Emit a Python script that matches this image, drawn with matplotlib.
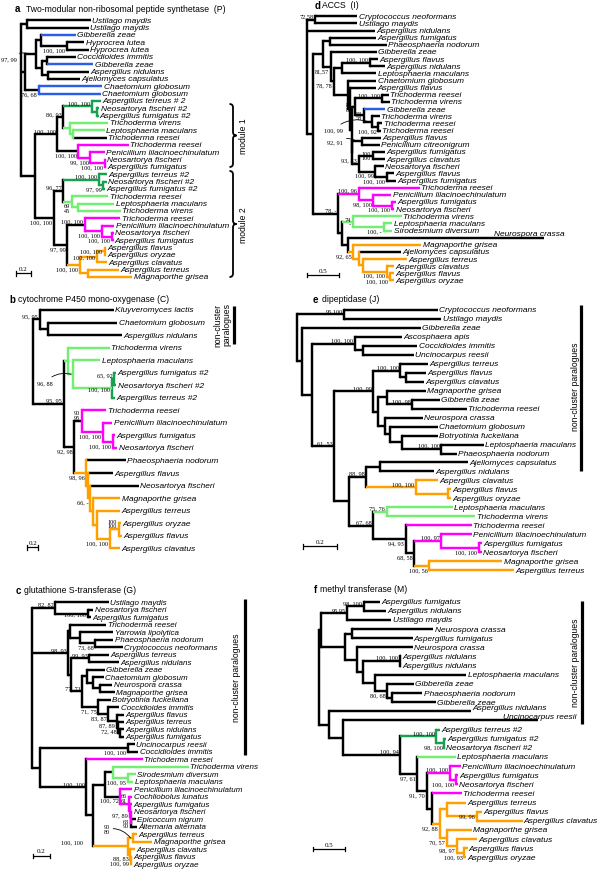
import matplotlib
matplotlib.use("Agg")
import matplotlib.pyplot as plt
from matplotlib.path import Path
from matplotlib.patches import PathPatch

W, H = 600, 870
SANS = ["Liberation Sans", "DejaVu Sans"]
SERIF = ["Liberation Serif", "DejaVu Serif"]
COLORS = {"k": "#000000", "b": "#2a5ee8", "m": "#ff00ff", "g": "#17a050",
          "l": "#72ee72", "o": "#ffa000"}
LW = 1.75
FS_SUP = 4.5


def L(name, d, c="k", off=None):
    return {"name": name, "d": d, "c": c, "off": off}


def N(d, kids, c="k", lab="", pos="a"):
    return {"d": d, "kids": kids, "c": c, "lab": lab, "pos": pos}


# ---------------- panel a: NRPS (P) ----------------
A_MODULE1 = N(0.49, [
    N(0.57, [
        N(0.95, [L("Aspergillus terreus # 2", 1.07, "g"),
                 N(1.02, [L("Neosartorya fischeri #2", 1.05, "g"),
                          L("Aspergillus fumigatus #2", 1.04, "g")], "g")],
          "g", "100, 100", "a"),
        N(0.66, [L("Trichoderma virens", 1.17, "l"),
                 N(0.70, [L("Leptosphaeria maculans", 1.12, "l"),
                          L("Trichoderma reesei", 1.15, "k")], "l")], "l"),
    ], "k", "86, 93", "a"),
    N(0.77, [L("Trichoderma reesei", 1.44, "m"),
             N(0.93, [L("Penicillium lilacinoechinulatum", 1.12, "m"),
                      N(1.12, [L("Neosartorya fischeri", 1.14, "m"),
                               L("Aspergillus fumigatus", 1.14, "m")], "m", "100, 100", "b")],
               "m", "99, 100", "b")], "k/m", "100, 100", "b"),
], "k", "100, 100", "a")

A_MODULE2 = N(0.44, [
    N(0.57, [
        N(1.04, [L("Aspergillus terreus #2", 1.15, "g"),
                 N(1.10, [L("Neosartorya fischeri #2", 1.15, "g"),
                          L("Aspergillus fumigatus #2", 1.13, "g")], "g", "97, 99", "b")],
          "g", "100, 100", "a"),
        N(0.68, [L("Trichoderma reesei", 1.17, "l"),
                 N(0.76, [L("Leptosphaeria maculans", 1.25, "l"),
                          L("Trichoderma virens", 1.34, "l")], "l")], "l", "69\n45", "b"),
    ], "k", "96, 77", "a"),
    N(0.62, [
        N(0.86, [L("Trichoderma reesei", 1.33, "m"),
                 N(1.08, [L("Penicillium lilacinoechinulatum", 1.25, "m"),
                          N(1.22, [L("Neosartorya fischeri", 1.24, "m"),
                                   L("Aspergillus fumigatus", 1.24, "m")], "m", "100, 100", "b")],
                   "m", "100, 100", "b")], "k/m", "100, 100", "a"),
        N(0.79, [
            N(1.02, [N(1.12, [L("Aspergillus flavus", 1.14, "o"),
                              L("Aspergillus oryzae", 1.14, "o")], "o", "100, 100", "l"),
                     L("Aspergillus clavatus", 1.15, "o")], "o", "100, 100", "l"),
            N(0.90, [L("Aspergillus terreus", 1.31, "o"),
                     L("Magnaporthe grisea", 1.49, "o")], "o"),
        ], "o", "100, 100", "b"),
    ], "k", "97, 99", "b"),
], "k", "100, 100", "b")

TREE_A = N(0.0, [
    N(0.08, [L("Ustilago maydis", 0.94), L("Ustilago maydis", 0.91)]),
    N(0.06, [
        N(0.21, [
            N(0.27, [L("Gibberella zeae", 0.74, "b"),
                     N(0.62, [L("Hyprocrea lutea", 0.85), L("Hyprocrea lutea", 0.91)],
                       "k", "100, 100", "b")]),
            N(0.28, [
                N(0.35, [L("Coccidioides immitis", 0.74), L("Gibberella zeae", 0.97, "b")]),
                N(0.37, [L("Aspergillus nidulans", 0.91), L("Ajellomyces capsulatus", 0.79)]),
            ]),
        ], "k", "97, 99", (-9.7, -3.2)),
        N(0.24, [L("Chaetomium globosum", 1.09, "b"), L("Chaetomium globosum", 1.07, "b")],
          "k/b", "76, 68", "b"),
    ]),
    N(0.19, [A_MODULE1, A_MODULE2]),
])

# ---------------- panel b: cytochrome P450 (C) ----------------
TREE_B = N(0.0, [
    N(0.12, [L("Kluyveromyces lactis", 1.46),
             N(0.27, [L("Chaetomium globosum", 1.53), L("Aspergillus nidulans", 1.62)])],
      "k", "95, 95", "a"),
    N(0.55, [
        N(0.64, [L("Trichoderma virens", 1.39, "l"),
                 N(0.73, [L("Leptosphaeria maculans", 1.22, "l"),
                          N(1.44, [N(1.47, [L("Aspergillus fumigatus #2", 1.51, "g"),
                                            L("Neosartorya fischeri #2", 1.51, "g")], "g", "65, 92", "a"),
                                   L("Aspergillus terreus #2", 1.49, "g")], "l/g", "100, 100", "l")],
                   "l", "96, 88", (-12.8, -6.0))], "l"),
        N(0.74, [
            N(0.88, [L("Trichoderma reesei", 1.33, "m"),
                     N(1.27, [L("Penicillium lilacinoechinulatum", 1.44, "m"),
                              N(1.45, [L("Aspergillus fumigatus", 1.48, "m"),
                                       L("Neosartorya fischeri", 1.53, "m")], "m", "100, 100", "b")],
                       "m", "100, 100", "b")], "k/m", "90\n95", "a"),
            N(0.96, [L("Phaeosphaeria nodorum", 1.68),
                     N(0.99, [L("Aspergillus flavus", 1.45),
                              N(1.04, [L("Neosartorya fischeri", 1.92),
                                       N(1.09, [L("Magnaporthe grisea", 1.58, "o"),
                                                N(1.15, [L("Aspergillus terreus", 1.58, "o"),
                                                         N(1.39, [N(1.55, [L("Aspergillus oryzae", 1.59, "o"),
                                                                           L("Aspergillus flavus", 1.61, "o")],
                                                                    "o", "100\n100", "a"),
                                                                  L("Aspergillus clavatus", 1.58, "o")],
                                                           "o", "100, 100", "b")], "o")], "o")],
                                "o", "66, -", "b")], "o")], "o", "98, 96", "b"),
        ], "k", "92, 98", "b"),
    ], "k", "95, 95", "a"),
])

# ---------------- panel c: glutathione S-transferase (G) ----------------
TREE_C = N(0.0, [
    N(0.27, [L("Ustilago maydis", 0.89),
             N(0.65, [L("Neosartorya fischeri", 0.71), L("Aspergillus fumigatus", 0.68)],
               "k", "100, 100", "l")], "k", "82, 82", "a"),
    N(0.42, [
        N(0.44, [L("Trichoderma reesei", 0.86),
                 N(0.56, [L("Yarrowia lipolytica", 0.94),
                          N(0.73, [L("Phaeosphaeria nodorum", 0.94),
                                   L("Cryptococcus neoformans", 1.05)], "k", "73, 68", "b")])]),
        N(0.45, [
            N(0.66, [L("Aspergillus terreus", 0.89), L("Aspergillus nidulans", 1.01)],
              "k", "99, 93", "a"),
            N(0.58, [
                N(0.64, [L("Gibberella zeae", 0.84),
                         N(0.71, [L("Chaetomium globosum", 0.83),
                                  N(0.79, [L("Neurospora crassa", 0.93),
                                           L("Magnaporthe grisea", 0.96)])])]),
                N(0.77, [L("Botryotinia fuckeliana", 0.91),
                         N(0.88, [L("Coccidioides immitis", 1.01),
                                  N(0.98, [L("Aspergillus flavus", 1.06),
                                           N(1.00, [L("Aspergillus terreus", 1.06),
                                                    N(1.02, [L("Aspergillus nidulans", 1.06),
                                                             L("Aspergillus fumigatus", 1.07)])],
                                             "k", "72, 48", "b")], "k", "87, 89", "b")],
                           "k", "83, 87", "b")], "k", "71, 75", "b"),
            ], "k", "77, 71", "a"),
        ]),
    ], "k", "98, 93", "a"),
    N(0.10, [
        N(1.11, [L("Uncinocarpus reesii", 1.19), L("Coccidioides immitis", 1.23)],
          "k", "100, 100", "b"),
        N(0.63, [L("Trichoderma reesei", 1.28, "m"),
                 N(0.71, [
                     N(0.85, [
                         N(0.94, [L("Trichoderma virens", 1.81, "l"),
                                  N(1.11, [L("Sirodesmium diversum", 1.20, "l"),
                                           L("Leptosphaeria maculans", 1.17, "l")], "l", "100, 95", "b")],
                           "k/l"),
                         N(1.02, [L("Penicillium lilacinoechinulatum", 1.16, "m"),
                                  N(1.12, [L("Cochliobolus lunatus", 1.16, "m"),
                                           N(1.13, [L("Aspergillus fumigatus", 1.16, "m"),
                                                    N(1.14, [L("Neosartorya fischeri", 1.16, "m"),
                                                             N(1.15, [L("Epicoccum nigrum", 1.20),
                                                                      L("Alternaria alternata", 1.22)])],
                                                      "m", "63\n90", "b")], "m", "97, 89", "b")],
                                    "m", "66\n61", "a")], "k/m", "100, 72", "b"),
                     ]),
                     N(1.11, [N(1.17, [L("Aspergillus terreus", 1.22, "o"),
                                       L("Magnaporthe grisea", 1.39, "o")], "o", "90\n80", (-15.0, 6.3)),
                              N(1.13, [L("Aspergillus clavatus", 1.19, "o"),
                                       N(1.15, [L("Aspergillus flavus", 1.16, "o"),
                                                L("Aspergillus oryzae", 1.16, "o")], "o", "88, 83\n100, 99", "l")],
                                "o")], "o", "100, 100", ("o", -32.6, 3.1)),
                 ]),
                 ], "k", "100, 100", "a"),
    ]),
])

# ---------------- panel d: ACCS (I) ----------------
D_T = N(0.75, [
    N(1.17, [L("Trichoderma reesei", 1.28), L("Trichoderma virens", 1.30)], "k", "100, 100", "a"),
    N(0.90, [L("Gibberella zeae", 1.23, "b"),
             N(1.02, [L("Trichoderma virens", 1.14),
                      N(1.12, [L("Trichoderma reesei", 1.18), L("Trichoderma reesei", 1.16)],
                        "k", "100, 92", "b")], "k", "100, 99", (-18.0, -5.9))], "k", "83\n58", "l"),
], "k", "87\n88", "l")

D_A = N(0.71, [
    N(0.86, [L("Aspergillus flavus", 1.16), L("Penicillium citreonigrum", 1.14)],
      "k", "92, 91", (-10.0, -0.6)),
    N(0.81, [N(1.04, [L("Aspergillus fumigatus", 1.22), L("Aspergillus clavatus", 1.23)],
               "k", "100\n100", "l"),
             N(1.07, [L("Neosartorya fischeri", 1.20),
                      N(1.25, [L("Aspergillus flavus", 1.37), L("Aspergillus fumigatus", 1.39)],
                        "k", "100, 100", "b")], "k", "100, 99", "b")], "k", "93, 83", "a"),
])

D_L1 = N(0.49, [
    N(0.81, [L("Trichoderma reesei", 1.77, "m"),
             N(1.04, [L("Penicillium lilacinoechinulatum", 1.32, "m"),
                      N(1.33, [L("Aspergillus fumigatus", 1.39, "m"),
                               L("Neosartorya fischeri", 1.37, "m")], "m", "100, 100", "b")],
               "m", "98, 100", "b")], "m", "100, 96", "a"),
    N(0.55, [
        N(0.72, [L("Trichoderma virens", 1.49, "l"),
                 N(1.20, [L("Leptosphaeria maculans", 1.34, "l"),
                          L("Sirodesmium diversum", 1.34, "l")], "l", "100, -", "b")], "l", "74\n-", "l"),
        N(0.65, [L("Neurospora crassa", 3.70, "k", (-35.6, 3.2)),
                 N(0.73, [L("Magnaporthe grisea", 1.79, "o"),
                          N(0.81, [L("Ajellomyces capsulatus", 1.47),
                                   N(0.88, [L("Aspergillus terreus", 1.56, "o"),
                                            N(1.25, [L("Aspergillus clavatus", 1.36, "o"),
                                                     N(1.30, [L("Aspergillus flavus", 1.36, "o"),
                                                              L("Aspergillus oryzae", 1.36, "o")],
                                                       "o", "100, 100", "b")], "o", "100, 100", "b")],
                                     "o")], "o")], "o", "92, 65", "b")]),
    ]),
], "k", "78, -", "a")

TREE_D = N(0.0, [
    N(0.13, [L("Cryptococcus neoformans", 0.79), L("Ustilago maydis", 0.79)], "k", "72,58", "a"),
    L("Aspergillus nidulans", 1.06),
    N(0.10, [
        N(0.26, [
            N(0.36, [L("Aspergillus fumigatus", 1.08), L("Phaeosphaeria nodorum", 1.25)]),
            N(0.38, [L("Gibberella zeae", 1.10),
                     N(0.42, [
                         N(0.55, [N(0.99, [L("Aspergillus flavus", 1.12), L("Aspergillus nidulans", 1.22)],
                                    "k", "100, 100", "a"),
                                  L("Leptosphaeria maculans", 1.09)]),
                         N(0.65, [L("Chaetomium globosum", 1.09),
                                  N(0.68, [L("Aspergillus flavus", 1.09),
                                           N(0.70, [D_T, D_A])])]),
                     ], "k", "78, 78", "b")], "k", "81,57", "b"),
        ]),
        D_L1,
    ]),
])

# ---------------- panel e: dipeptidase (J) ----------------
TREE_E = N(0.0, [
    N(0.28, [L("Cryptococcus neoformans", 0.83), L("Ustilago maydis", 0.85)], "k", "95,100", "a"),
    N(0.03, [
        L("Gibberella zeae", 0.73),
        N(0.09, [
            N(0.34, [L("Ascosphaera apis", 0.62),
                     N(0.39, [L("Coccidioides immitis", 0.71), L("Uncinocarpus reesii", 0.69)])],
              "k", "100, 100", "a"),
            N(0.22, [
                N(0.45, [
                    N(0.61, [L("Aspergillus terreus", 0.77),
                             N(0.64, [L("Aspergillus flavus", 0.76), L("Aspergillus clavatus", 0.75)])],
                      "k", "100, 100", "a"),
                    N(0.48, [
                        N(0.53, [L("Magnaporthe grisea", 0.76),
                                 N(0.68, [L("Gibberella zeae", 0.84), L("Trichoderma reesei", 1.00)],
                                   "k", "100, 98", "a")]),
                        N(0.52, [L("Neurospora crassa", 0.74),
                                 N(0.55, [L("Chaetomium globosum", 0.83),
                                          N(0.62, [L("Botryotinia fuckeliana", 0.83),
                                                   N(0.85, [L("Leptosphaeria maculans", 1.10),
                                                            L("Phaeosphaeria nodorum", 0.94)],
                                                     "k", "100, 100", "a")])])]),
                    ]),
                ], "k", "100, 99", "a"),
                N(0.31, [
                    N(0.41, [N(0.49, [L("Ajellomyces capsulatus", 1.01), L("Aspergillus nidulans", 0.81)]),
                             N(0.70, [L("Aspergillus clavatus", 0.83, "o"),
                                      N(0.89, [L("Aspergillus flavus", 0.91, "o"),
                                               L("Aspergillus oryzae", 0.91, "o")], "o")],
                               "o", "100, 100", "a")], "k", "88, 98", "a"),
                    N(0.45, [
                        N(0.53, [L("Leptosphaeria maculans", 0.92, "l"),
                                 L("Trichoderma virens", 1.05, "l")], "l", "75, 76", "a"),
                        N(0.64, [L("Trichoderma reesei", 1.03, "m"),
                                 N(0.69, [N(0.85, [L("Penicillium lilacinoechinulatum", 1.03, "m"),
                                                   N(1.07, [L("Aspergillus fumigatus", 1.09, "m"),
                                                            L("Neosartorya fischeri", 1.09, "m")],
                                                     "m", "100, 100", "b")], "m", "100, 97", "a"),
                                          N(0.78, [L("Magnaporthe grisea", 1.21, "o"),
                                                   L("Aspergillus terreus", 1.28, "o")], "o", "100, 56", "b")],
                                   "k", "68, 58", "b")], "k", "94, 93", "b"),
                    ], "k", "67, 68", "a"),
                ]),
            ], "k", "61, 53", "a"),
        ]),
    ]),
])

# ---------------- panel f: methyl transferase (M) ----------------
TREE_F = N(0.0, [
    N(0.04, [
        N(0.44, [N(0.70, [L("Aspergillus fumigatus", 0.95), L("Aspergillus nidulans", 1.04)],
                   "k", "98, 100", "a"),
                 L("Ustilago maydis", 1.12)], "k", "95,95", "a"),
        N(0.41, [
            N(0.52, [L("Neurospora crassa", 1.77), L("Aspergillus fumigatus", 1.45)]),
            N(0.59, [L("Neurospora crassa", 1.45),
                     N(0.69, [N(1.25, [L("Aspergillus nidulans", 1.27), L("Aspergillus nidulans", 1.27)],
                                "k", "100, 100", "a"),
                              N(0.87, [L("Leptosphaeria maculans", 2.28),
                                       N(1.06, [L("Gibberella zeae", 1.47),
                                                N(1.13, [L("Phaeosphaeria nodorum", 1.60),
                                                         L("Gibberella zeae", 1.81)])],
                                         "k", "80, 68", "b")])])]),
        ]),
    ]),
    N(0.16, [L("Aspergillus nidulans", 2.35, "k", (1.0, 2.4)),
             N(0.38, [L("Uncinocarpus reesii", 3.39, "k", (-25.2, 2.9)),
                      N(1.26, [
                          N(1.82, [L("Aspergillus terreus #2", 1.87, "g"),
                                   N(1.94, [L("Aspergillus fumigatus #2", 1.97, "g"),
                                            L("Neosartorya fischeri #2", 1.95, "g")], "g", "98, 100", "b")],
                            "g", "100, 100", "a"),
                          N(1.52, [L("Leptosphaeria maculans", 2.12, "l"),
                                   N(1.67, [N(2.03, [L("Penicillium lilacinoechinulatum", 2.20, "m"),
                                                     N(2.12, [L("Aspergillus fumigatus", 2.15, "m"),
                                                              L("Neosartorya fischeri", 2.15, "m")],
                                                       "m", "100, 100", "b")], "m", "100, 100", "a"),
                                            N(1.75, [L("Trichoderma reesei", 2.21, "m"),
                                                     N(1.87, [N(1.98, [L("Aspergillus terreus", 2.28, "o"),
                                                                       N(2.45, [L("Aspergillus flavus", 2.52, "o"),
                                                                                L("Aspergillus clavatus", 3.15, "o")],
                                                                         "o", "99, 96", "l")], "o"),
                                                              N(1.98, [L("Magnaporthe grisea", 2.37, "o"),
                                                                       N(2.13, [L("Aspergillus clavatus", 2.44, "o"),
                                                                                N(2.25, [L("Aspergillus flavus", 2.30, "o"),
                                                                                         L("Aspergillus oryzae", 2.28, "o")],
                                                                                  "o", "100, 93", "b")],
                                                                         "o", "98, 97", "b")], "o", "70, 57", "b")],
                                                       "o", "92, 88", "b")])], "k", "91, 70", "b")],
                            "k", "97, 61", "b"),
                      ], "k", "100, 94", "a")])]),
])

# layout of each panel: root x (px), first leaf y (px), leaf spacing (px), px per unit
PANELS = [
    dict(tree=TREE_A, root=20.5, y0=21.3, dy=7.33, ppu=75.0, fs=6.0, bar=(16.0, 274.3, 0.2, "0.2")),
    dict(tree=TREE_B, root=33.3, y0=311.0, dy=12.54, ppu=55.0, fs=6.0, bar=(27.3, 548.3, 0.2, "0.2")),
    dict(tree=TREE_C, root=31.7, y0=603.3, dy=7.48, ppu=86.7, fs=5.8, bar=(32.7, 856.7, 0.2, "0.2")),
    dict(tree=TREE_D, root=306.7, y0=17.3, dy=7.14, ppu=64.0, fs=6.0, bar=(307.3, 276.0, 0.5, "0.5")),
    dict(tree=TREE_E, root=296.7, y0=311.0, dy=8.97, ppu=170.0, fs=6.0, bar=(302.7, 547.3, 0.2, "0.2")),
    dict(tree=TREE_F, root=318.7, y0=602.7, dy=9.13, ppu=64.7, fs=6.0, bar=(312.7, 850.0, 0.5, "0.5")),
]

TITLES = [
    ("a", "Two-modular non-ribosomal peptide synthetase  (P)", 14.5, 25.5, 9.0),
    ("b", "cytochrome P450 mono-oxygenase (C)", 9.5, 18.0, 300.0),
    ("c", "glutathione S-transferase (G)", 16.0, 24.5, 591.0),
    ("d", "ACCS  (I)", 314.5, 322.5, 6.0),
    ("e", "dipeptidase (J)", 312.5, 322.0, 300.0),
    ("f", "methyl transferase (M)", 313.5, 320.0, 590.0),
]

# side annotations: (text, text x, text y, bar x, bar y0, bar y1)
PARALOGUE_BARS = [
    ("non-cluster\nparalogues", 222.5, 325.0, 234.3, 306.7, 345.0),
    ("non-cluster paralogues", 236.7, 678.0, 245.0, 600.0, 755.7),
    ("non-cluster paralogues", 575.0, 386.5, 580.7, 305.7, 471.7),
    ("non-cluster paralogues", 575.0, 663.0, 581.7, 601.7, 725.0),
]
MODULES = [("module 1", 233.0, 105.0, 168.0), ("module 2", 233.0, 172.0, 278.0)]

fig = plt.figure(figsize=(W / 100, H / 100), dpi=100)
fig.patch.set_facecolor("white")


def split(c):
    s, v = (c.split("/") if "/" in c else (c, c))
    return COLORS[s], COLORS[v]


def draw_node(ax, node, pdepth, counter, P):
    if "name" in node:
        y = counter[0]
        counter[0] += 1
        sc, _ = split(node["c"])
        ax.plot([pdepth, node["d"]], [y, y], color=sc, lw=LW, solid_capstyle="butt",
                zorder=3 if node["c"] != "k" else 2)
        off = node["off"] if node["off"] else (1.0, 0.0)
        ax.annotate(node["name"], (node["d"], y), xytext=off, textcoords="offset points",
                    ha="left", va="center", fontsize=P["fs"], fontstyle="italic", family=SANS)
        return y
    d = node["d"]
    ys = [draw_node(ax, k, d, counter, P) for k in node["kids"]]
    y = (ys[0] + ys[-1]) / 2.0
    sc, vc = split(node["c"])
    ax.plot([d, d], [ys[0], ys[-1]], color=vc, lw=LW, solid_capstyle="projecting",
            zorder=3 if vc != "#000000" else 2)
    if pdepth is not None:
        ax.plot([pdepth, d], [y, y], color=sc, lw=LW, solid_capstyle="butt",
                zorder=3 if sc != "#000000" else 2)
    lab, pos = node["lab"], node["pos"]
    if lab:
        kw = dict(textcoords="offset points", fontsize=FS_SUP, family=SERIF, linespacing=0.9,
                  zorder=5)
        if pos == "a":
            ax.annotate(lab, (d, y), xytext=(-1.2, 0.9), ha="right", va="bottom", **kw)
        elif pos == "b":
            ax.annotate(lab, (d, y), xytext=(-1.2, -0.9), ha="right", va="top", **kw)
        elif pos == "l":
            ax.annotate(lab, (d, y), xytext=(-1.6, 0), ha="right", va="center", **kw)
        elif pos[0] == "o":
            ax.annotate(lab, (d, y), xytext=(pos[1], pos[2]), ha="right", va="center", **kw)
        else:
            ax.annotate(lab, ((pdepth + d) / 2.0, y), xytext=pos, ha="right", va="center",
                        arrowprops=dict(arrowstyle="-", lw=0.6, color="k",
                                        connectionstyle="arc3,rad=-0.3",
                                        shrinkA=0.5, shrinkB=0), **kw)
    return y


for i, P in enumerate(PANELS):
    ax = fig.add_axes([0, 0, 1, 1], label="panel%d" % i)
    ax.set_xlim(-P["root"] / P["ppu"], (W - P["root"]) / P["ppu"])
    ax.set_ylim((H - P["y0"]) / P["dy"], -P["y0"] / P["dy"])
    ax.set_axis_off()
    ax.patch.set_alpha(0)
    draw_node(ax, P["tree"], None, [0], P)
    bx, by, blen, btxt = P["bar"]
    x0 = (bx - P["root"]) / P["ppu"]
    yb = (by - P["y0"]) / P["dy"]
    t = 2.2 / P["dy"]
    ax.plot([x0, x0 + blen], [yb, yb], color="k", lw=0.9, solid_capstyle="butt")
    ax.plot([x0, x0], [yb - t, yb + t], color="k", lw=0.9)
    ax.plot([x0 + blen, x0 + blen], [yb - t, yb + t], color="k", lw=0.9)
    ax.annotate(btxt, (x0 + blen / 2, yb), xytext=(0, 1.6), textcoords="offset points",
                ha="center", va="bottom", fontsize=5.0, family=SERIF)

axp = fig.add_axes([0, 0, 1, 1], label="overlay")
axp.set_xlim(0, W)
axp.set_ylim(H, 0)
axp.set_axis_off()
axp.patch.set_alpha(0)

for letter, title, lx, tx, ty in TITLES:
    axp.text(lx, ty, letter, fontsize=7.0, fontweight="bold", family=SANS, va="center", ha="left")
    axp.text(tx, ty, title, fontsize=6.2, family=SANS, va="center", ha="left")

for txt, tx, ty, bx, b0, b1 in PARALOGUE_BARS:
    axp.text(tx, ty, txt, rotation=90, ha="center", va="center", fontsize=6.2, family=SANS,
             linespacing=0.95)
    axp.plot([bx, bx], [b0, b1], color="k", lw=2.3, solid_capstyle="butt")


def brace(ax, x, y0, y1, w=3.5):
    ym = (y0 + y1) / 2.0
    verts = [(x - w, y0), (x, y0), (x, y0 + w), (x, ym - w), (x, ym), (x + w, ym),
             (x, ym), (x, ym + w), (x, y1 - w), (x, y1), (x - w, y1)]
    codes = [Path.MOVETO, Path.CURVE3, Path.CURVE3, Path.LINETO, Path.CURVE3, Path.CURVE3,
             Path.CURVE3, Path.CURVE3, Path.LINETO, Path.CURVE3, Path.CURVE3]
    ax.add_patch(PathPatch(Path(verts, codes), fill=False, lw=1.3, color="k"))


for txt, bx, b0, b1 in MODULES:
    brace(axp, bx, b0, b1)
    axp.text(bx + 10.5, (b0 + b1) / 2.0, txt, rotation=90, ha="center", va="center",
             fontsize=6.2, family=SANS)

fig.savefig("out.png", dpi=100, facecolor="white")
